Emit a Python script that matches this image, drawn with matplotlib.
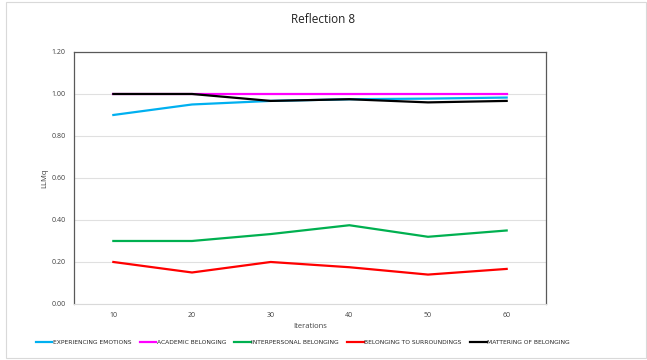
import matplotlib.pyplot as plt

plt.rcParams['font.family'] = ['Open Sans', 'DejaVu Sans']

iterations = ['10', '20', '30', '40', '50', '60']
experiencing = [0.90, 0.95, 0.967, 0.975, 0.978, 0.983]
academic = [1.00, 1.00, 1.00, 1.00, 1.00, 1.00]
interpersonal = [0.30, 0.30, 0.333, 0.375, 0.32, 0.35]
surroundings = [0.20, 0.15, 0.20, 0.175, 0.14, 0.167]
mattering = [1.00, 1.00, 0.967, 0.975, 0.96, 0.967]

series = [
    ('EXPERIENCING EMOTIONS', experiencing, '#00b0f0'),
    ('ACADEMIC BELONGING', academic, '#ff00ff'),
    ('INTERPERSONAL BELONGING', interpersonal, '#00b050'),
    ('BELONGING TO SURROUNDINGS', surroundings, '#ff0000'),
    ('MATTERING OF BELONGING', mattering, '#000000'),
]

fig = plt.figure(figsize=(6.47, 3.6), dpi=100)
ax = fig.add_axes([0.1144, 0.1556, 0.7295, 0.7])

x = list(range(len(iterations)))
for name, vals, col in series:
    ax.plot(x, vals, color=col, lw=1.6, label=name)

ax.set_xlim(-0.5, len(iterations) - 0.5)
ax.set_ylim(0, 1.2)
ax.set_xticks(x)
ax.set_xticklabels(iterations)
ax.set_yticks([0, 0.2, 0.4, 0.6, 0.8, 1.0, 1.2])
ax.set_yticklabels(['%.2f' % v for v in [0, 0.2, 0.4, 0.6, 0.8, 1.0, 1.2]])
ax.tick_params(labelsize=5, length=0, colors='#404040', pad=6)
ax.grid(axis='y', color='#e0e0e0', lw=0.8)
ax.set_axisbelow(True)
for s in ['left', 'right', 'top']:
    ax.spines[s].set_color('#595959')
    ax.spines[s].set_linewidth(0.9)
ax.spines['bottom'].set_color('#d9d9d9')

ax.set_xlabel('Iterations', fontsize=5.5, color='#404040', labelpad=3)
ax.set_ylabel('LLMq', fontsize=5.5, color='#404040', labelpad=2)
fig.text(0.5, 0.945, 'Reflection 8', ha='center', va='center', fontsize=8.5, color='#222222')

leg = fig.legend(loc='center', bbox_to_anchor=(0.468, 0.05), ncol=5, frameon=False,
                 prop={'family': ['Liberation Sans Narrow', 'DejaVu Sans'], 'size': 4.35},
                 handlelength=2.7, handletextpad=0.1, columnspacing=1.4)
for line in leg.get_lines():
    line.set_linewidth(1.6)
for t in leg.get_texts():
    t.set_color('#262626')

# light frame round the chart
fig.patches.append(plt.Rectangle((0.009, 0.005), 0.99, 0.99, transform=fig.transFigure,
                                 fill=False, ec='#d9d9d9', lw=0.8))

fig.savefig('out.png', dpi=100)
